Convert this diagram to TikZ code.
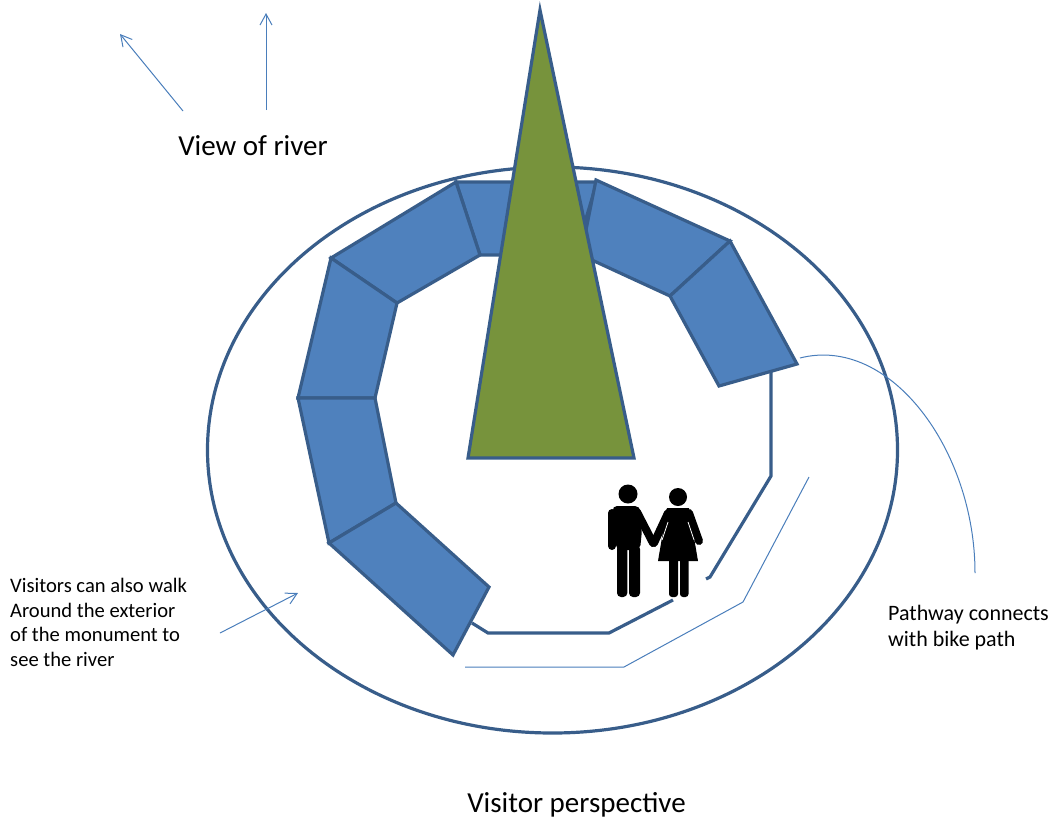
\documentclass[tikz,border=0pt]{standalone}
\usepackage{fontspec}
\setmainfont{Carlito}
\usetikzlibrary{arrows.meta}
\definecolor{edgeblue}{HTML}{385D8A}
\definecolor{fillblue}{HTML}{4F81BD}
\definecolor{thinblue}{HTML}{4A7EBB}
\definecolor{olive}{HTML}{77933C}
\tikzset{
 seg/.style={draw=edgeblue,fill=fillblue,line width=3.2pt,line join=miter},
 walk/.style={draw=edgeblue,line width=3.2pt},
 thin line/.style={draw=thinblue,line width=1pt},
 pointer/.style={thin line,-{Straight Barb[length=11pt,width=12pt,line width=1pt]}},
 big/.style={font=\fontsize{29}{29}\selectfont,inner sep=0pt,anchor=base},
 small/.style={font=\fontsize{20.6}{24.6}\selectfont,inner sep=0pt,anchor=north west,align=left},
 smallb/.style={font=\fontsize{22}{26}\selectfont,inner sep=0pt,anchor=north west,align=left},
 limb/.style={draw=black,line cap=round,line join=round}
}
\begin{document}
\begin{tikzpicture}[x=1pt,y=-1pt]
\useasboundingbox (0,0) rectangle (1057,822);
% outer ellipse
\draw[walk] (552.5,450) ellipse [x radius=345,y radius=283];
% pathway walls
\draw[walk,line join=miter] (771,372) -- (771,476) -- (710,577) -- (706,579);
\draw[walk,line join=miter] (673,600) -- (609,633) -- (488,633) -- (472,623);
% bike path line
\draw[thin line] (809,477) -- (743,602) -- (624,667) -- (465,667);
% monument segments
\draw[seg] (456,182) -- (597,182) -- (575,255) -- (480,255) -- cycle;
\draw[seg] (596,180) -- (730,241) -- (670,296) -- (581,255) -- cycle;
\draw[seg] (730,241) -- (797,364) -- (719,386) -- (670,296) -- cycle;
\draw[seg] (331,258) -- (456,182) -- (480,255) -- (397,303) -- cycle;
\draw[seg] (298,398) -- (331,258) -- (397,303) -- (375,398) -- cycle;
\draw[seg] (298,398) -- (375,398) -- (396,503) -- (329,543) -- cycle;
\draw[seg] (329,543) -- (396,503) -- (489,587) -- (453,655) -- cycle;
% obelisk
\draw[draw=edgeblue,fill=olive,line width=3.2pt,line join=miter] (540,10) -- (634,458) -- (468,458) -- cycle;
% man
\fill[black] (628,494) circle (9.5);
\fill[black,rounded corners=5pt] (612,506) -- (640,506) -- (642,530) -- (640,550) -- (616,550) -- (616,530) -- cycle;
\fill[black,rounded corners=4pt] (617,545) -- (627.3,545) -- (627.3,597) -- (617,597) -- cycle;
\fill[black,rounded corners=4pt] (629,545) -- (640,545) -- (640,597) -- (629,597) -- cycle;
\draw[limb,line width=8pt] (612,513) -- (612,546);
\draw[limb,line width=8pt] (637,512) -- (653,543);
% woman
\fill[black] (678,497) circle (9);
\fill[black] (667,508) -- (689,508) -- (698,561) -- (658,561) -- cycle;
\fill[black,rounded corners=3pt] (669,555) -- (678,555) -- (678,597) -- (669,597) -- cycle;
\fill[black,rounded corners=3pt] (680,555) -- (688.5,555) -- (688.5,597) -- (680,597) -- cycle;
\draw[limb,line width=8pt] (668,513) -- (654,543);
\draw[limb,line width=8pt] (689,513) -- (699,541);
\draw[white,line width=.8pt] (668,522) -- (662,540);
\draw[white,line width=.8pt] (688,522) -- (694,540);
% annotation lines
\coordinate (riverA) at (183,111);
\coordinate (riverAtip) at (120,34);
\coordinate (riverB) at (266,110);
\coordinate (riverBtip) at (266,13);
\coordinate (extA) at (220,633);
\coordinate (extAtip) at (298,593);
\coordinate (linkA) at (800,358);
\coordinate (linkB) at (975,573);
\draw[pointer] (riverA) -- (riverAtip);
\draw[pointer] (riverB) -- (riverBtip);
\draw[pointer] (extA) -- (extAtip);
\draw[thin line] (linkA) .. controls (890,335) and (975,450) .. (linkB);
% labels
\node[big] (river) at (253,155) {View of river};
\node[big] (persp) at (576.5,812) {Visitor perspective};
\node[small] (ext) at (10,578) {Visitors can also walk\\Around the exterior\\of the monument to\\see the river};
\node[smallb] (bike) at (888,605) {Pathway connects\\with bike path};
\end{tikzpicture}
\end{document}
